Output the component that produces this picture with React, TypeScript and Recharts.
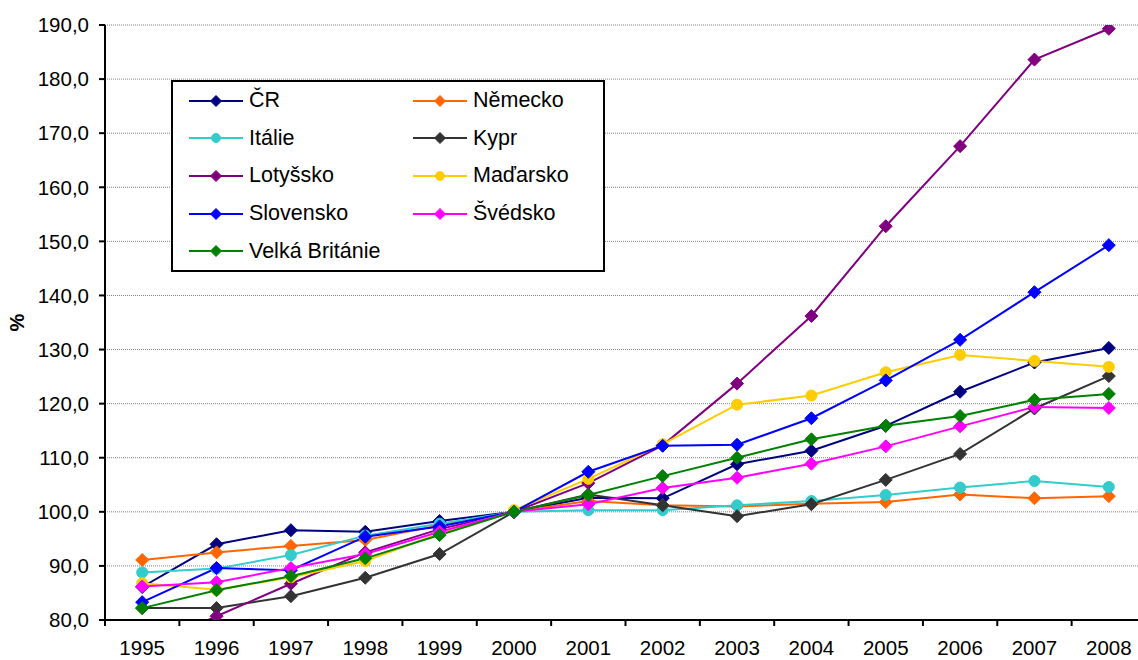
import { CartesianGrid, Legend, Line, LineChart, XAxis, YAxis } from "recharts";

const years = [1995, 1996, 1997, 1998, 1999, 2000, 2001, 2002, 2003, 2004, 2005, 2006, 2007, 2008];

const cr = [86.1, 94.0, 96.6, 96.3, 98.3, 100.0, 102.6, 102.5, 108.8, 111.3, 115.9, 122.2, 127.6, 130.3];
const nemecko = [91.1, 92.5, 93.7, 94.8, 97.5, 100.0, 102.0, 101.2, 101.0, 101.5, 101.8, 103.2, 102.5, 102.9];
const italie = [88.8, 89.5, 92.0, 95.6, 97.8, 100.0, 100.3, 100.3, 101.2, 102.0, 103.1, 104.5, 105.7, 104.6];
const kypr = [82.2, 82.2, 84.4, 87.8, 92.2, 100.0, 103.2, 101.2, 99.2, 101.4, 105.9, 110.7, 119.1, 125.1];
const lotyssko = [74.5, 80.7, 86.7, 92.5, 96.8, 100.0, 105.3, 112.3, 123.7, 136.2, 152.8, 167.6, 183.6, 189.3];
const madarsko = [86.8, 85.6, 87.9, 90.9, 96.0, 100.3, 106.1, 112.5, 119.8, 121.5, 125.8, 129.0, 127.9, 126.8];
const slovensko = [83.3, 89.6, 89.2, 95.4, 97.3, 100.0, 107.4, 112.2, 112.4, 117.3, 124.3, 131.8, 140.6, 149.3];
const svedsko = [86.2, 87.0, 89.6, 92.2, 96.3, 100.0, 101.4, 104.4, 106.3, 108.9, 112.1, 115.8, 119.4, 119.2];
const britanie = [82.2, 85.5, 88.1, 91.4, 95.7, 100.0, 103.1, 106.6, 110.0, 113.4, 115.9, 117.7, 120.7, 121.8];

const yTicks = [80, 90, 100, 110, 120, 130, 140, 150, 160, 170, 180, 190];
// tick marks sit between the years, like in Excel
const xTicks = [1994.5, ...years.map((y) => y + 0.5)];

const series = [
  { key: "cr", name: "ČR", color: "#000080", shape: "diamond", values: cr },
  { key: "nemecko", name: "Německo", color: "#FF6600", shape: "diamond", values: nemecko },
  { key: "italie", name: "Itálie", color: "#33CCCC", shape: "circle", values: italie },
  { key: "kypr", name: "Kypr", color: "#333333", shape: "diamond", values: kypr },
  { key: "lotyssko", name: "Lotyšsko", color: "#800080", shape: "diamond", values: lotyssko },
  { key: "madarsko", name: "Maďarsko", color: "#FFCC00", shape: "circle", values: madarsko },
  { key: "slovensko", name: "Slovensko", color: "#0000FF", shape: "diamond", values: slovensko },
  { key: "svedsko", name: "Švédsko", color: "#FF00FF", shape: "diamond", values: svedsko },
  { key: "britanie", name: "Velká Británie", color: "#008000", shape: "diamond", values: britanie },
];

const data = years.map((year, i) => {
  const row: Record<string, number> = { year };
  series.forEach((s) => {
    row[s.key] = s.values[i];
  });
  return row;
});

const FONT = "'Liberation Sans', Arial, sans-serif";
const CHART_W = 1160;
const CHART_H = 660;
const MARGIN = { top: 25, right: 14, bottom: 0, left: 0 };
const Y_AXIS_W = 105;
const BAND = (CHART_W - MARGIN.left - MARGIN.right - Y_AXIS_W) / years.length;

function Marker({ cx, cy, color, shape, size = 6.5 }: any) {
  if (cx == null || cy == null) return null;
  if (shape === "circle") {
    return <circle cx={cx} cy={cy} r={size - 1} fill={color} stroke={color} />;
  }
  const r = size;
  return (
    <polygon
      points={`${cx},${cy - r} ${cx + r},${cy} ${cx},${cy + r} ${cx - r},${cy}`}
      fill={color}
      stroke={color}
    />
  );
}

function YearTick({ x, y, payload }: any) {
  const label = Math.round(payload.value + 0.5);
  if (label > years[years.length - 1]) return <g />;
  return (
    <text
      x={x + BAND / 2}
      y={y}
      dy="0.71em"
      textAnchor="middle"
      fill="#000"
      fontSize={20.5}
      fontFamily={FONT}
    >
      {label}
    </text>
  );
}

function LegendBox() {
  return (
    <div
      style={{
        width: 430,
        height: 188,
        border: "2px solid #000",
        background: "#fff",
        display: "grid",
        gridTemplateColumns: "224px 206px",
        gridAutoRows: "37.6px",
        fontFamily: FONT,
        fontSize: 21.5,
        color: "#000",
      }}
    >
      {series.map((s) => (
        <div key={s.key} style={{ display: "flex", alignItems: "center", paddingLeft: 16 }}>
          <svg width={54} height={16} style={{ marginRight: 6 }}>
            <line x1={0} y1={8} x2={54} y2={8} stroke={s.color} strokeWidth={2} />
            <Marker cx={27} cy={8} color={s.color} shape={s.shape} size={5.5} />
          </svg>
          <span>{s.name}</span>
        </div>
      ))}
    </div>
  );
}

export default function App() {
  return (
    <div
      style={{
        position: "absolute",
        left: 0,
        top: 0,
        width: 1138,
        height: 660,
        overflow: "hidden",
        background: "#fff",
      }}
    >
      <LineChart width={CHART_W} height={CHART_H} data={data} margin={MARGIN}>
        <CartesianGrid vertical={false} stroke="#808080" strokeDasharray="1 1" />
        <XAxis
          dataKey="year"
          type="number"
          domain={[1994.5, 2008.5]}
          ticks={xTicks}
          interval={0}
          height={40}
          axisLine={{ stroke: "#000", strokeWidth: 2 }}
          tickLine={{ stroke: "#000", strokeWidth: 2 }}
          tickSize={6}
          tickMargin={14}
          tick={<YearTick />}
        />
        <YAxis
          domain={[80, 190]}
          ticks={yTicks}
          allowDataOverflow
          interval={0}
          width={Y_AXIS_W}
          axisLine={{ stroke: "#000", strokeWidth: 2 }}
          tickLine={{ stroke: "#000", strokeWidth: 2 }}
          tickSize={6}
          tickMargin={10}
          tickFormatter={(v: number) => v.toFixed(1).replace(".", ",")}
          tick={{ fill: "#000", fontSize: 20.5, fontFamily: FONT }}
          label={{
            value: "%",
            angle: -90,
            position: "insideLeft",
            offset: 17,
            style: { textAnchor: "middle", fontWeight: "bold", fontSize: 20, fontFamily: FONT, fill: "#000" },
          }}
        />
        <Legend
          layout="vertical"
          align="center"
          verticalAlign="middle"
          wrapperStyle={{ position: "absolute", left: 171, top: 80, width: 434, height: 192 }}
          content={() => <LegendBox />}
        />
        {series.map((s) => (
          <Line
            key={s.key}
            dataKey={s.key}
            name={s.name}
            stroke={s.color}
            strokeWidth={2}
            isAnimationActive={false}
            dot={(p: any) => <Marker key={`${s.key}-${p.index}`} cx={p.cx} cy={p.cy} color={s.color} shape={s.shape} />}
            activeDot={false}
          />
        ))}
      </LineChart>
    </div>
  );
}
